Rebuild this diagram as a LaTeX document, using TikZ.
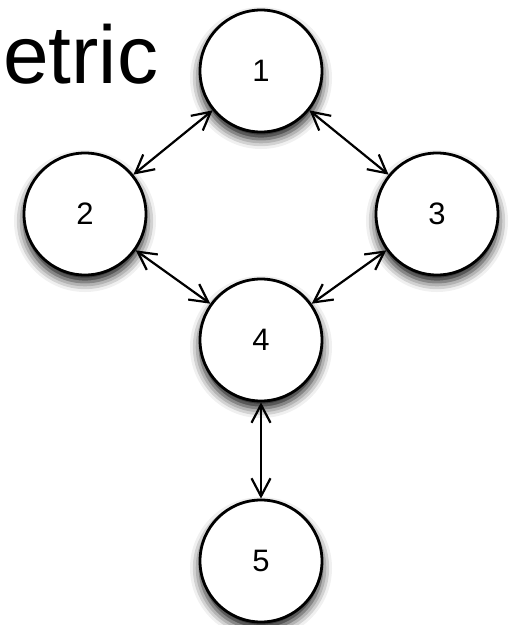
\documentclass[tikz,border=0pt]{standalone}
\usepackage{fontspec}
\setmainfont{Liberation Sans}
\usetikzlibrary{arrows.meta,shadows.blur}
\begin{document}
\begin{tikzpicture}[x=1pt,y=-1pt,
  state/.style={circle,draw=black,line width=2.8pt,fill=white,
    minimum size=122pt,inner sep=0pt,font=\fontsize{31}{31}\selectfont,
    blur shadow={shadow xshift=0pt,shadow yshift=-7pt,
      shadow blur radius=10pt,shadow opacity=95}},
  barb/.tip={Straight Barb[length=18pt,width=19pt,line width=2.2pt]},
  link/.style={line width=2.2pt,barb-barb}]
  \useasboundingbox (0,0) rectangle (516,625);
  % title fragment
  \node[anchor=base west,inner sep=0pt,font=\fontsize{82}{82}\selectfont] (title) at (3,83) {etric};
  % states
  \node[state] (n1) at (261,71) {1};
  \node[state] (n2) at (85,214) {2};
  \node[state] (n3) at (437,214) {3};
  \node[state] (n4) at (261,340) {4};
  \node[state] (n5) at (261,561) {5};
  % bidirectional links
  \draw[link] (n1) -- (n2);
  \draw[link] (n1) -- (n3);
  \draw[link] (n2) -- (n4);
  \draw[link] (n3) -- (n4);
  \draw[link] (n4) -- (n5);
\end{tikzpicture}
\end{document}
